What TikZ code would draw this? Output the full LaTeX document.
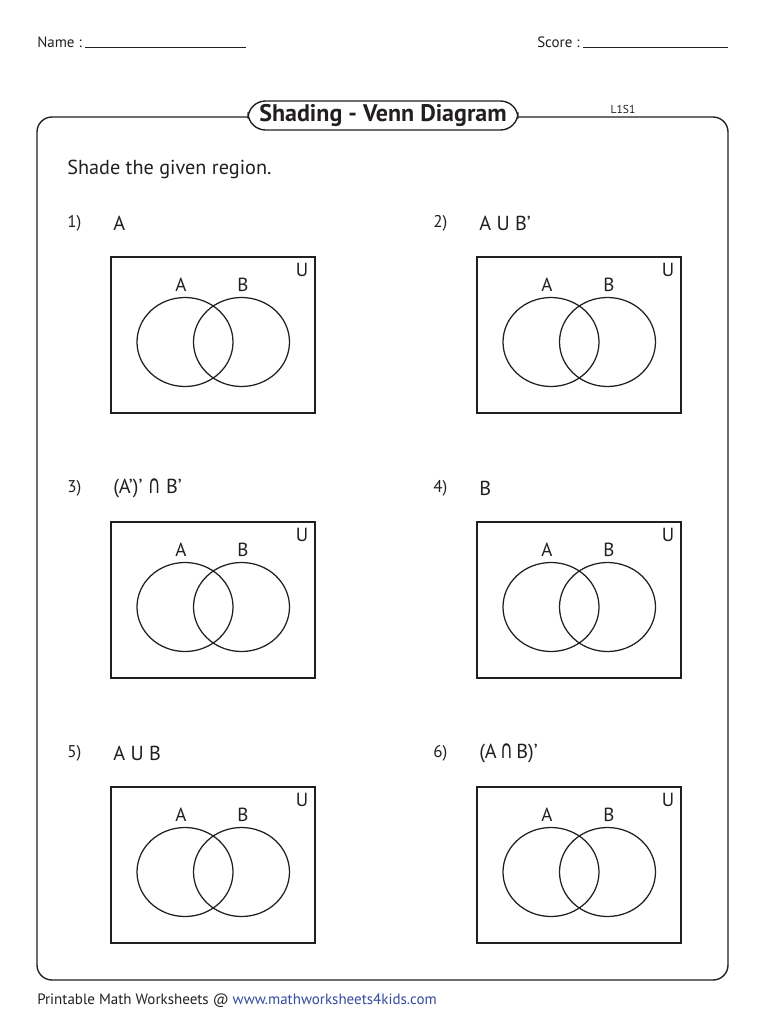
\documentclass[tikz,border=0pt]{standalone}
\usepackage{fontspec}
\setmainfont{PT Sans}
\newfontfamily\symfont{DejaVu Sans}
\usetikzlibrary{math, calc}
\definecolor{linkblue}{RGB}{52,74,160}
\definecolor{inkgray}{RGB}{35,31,32}
\newcommand{\capsym}{{\symfont\fontsize{14}{16}\selectfont\scalebox{1}[1.45]{∩}}}

\begin{document}
\begin{tikzpicture}[x=0.8pt,y=-0.8pt,
  every node/.style={inner sep=0pt, text=inkgray},
  txt/.style={anchor=west, font=\fontsize{16.2}{18}\selectfont},
  frameline/.style={draw=inkgray, line width=1.1pt},
  vennline/.style={draw=inkgray, line width=1pt}]
\tikzmath{
\W=204; \H=156;
\rx=48; \ry=44.5;
}
\useasboundingbox (0,0) rectangle (768,1024);

% header
\node[anchor=west, font=\fontsize{12}{14}\selectfont] (name) at (37,42) {Name :};
\coordinate (nameend) at (246,48);
\draw[inkgray, line width=0.8pt] (85,48) -- (nameend);
\node[anchor=west, font=\fontsize{12}{14}\selectfont] (score) at (537,42) {Score :};
\coordinate (scoreend) at (728,48);
\draw[inkgray, line width=0.8pt] (583,48) -- (scoreend);

% frame and title
\draw[frameline, rounded corners=12] (37,117) rectangle (728,980);
\draw[frameline, fill=white, rounded corners=14] (248,101) rectangle (518,130);
\node[font=\fontsize{19.2}{21}\bfseries\selectfont] (title) at (383,115) {Shading - Venn Diagram};
\node[font=\fontsize{9.2}{11}\selectfont] (code) at (623,109) {L1S1};

\node[txt] (intro) at (67,169) {Shade the given region.};

% the six diagrams
\foreach \k/\dx/\dy/\expr in {1/0/0/{A},
                               2/366/0/{A U B’},
                               3/0/265/{(A’)’ \capsym{} B’},
                               4/366/265/{B},
                               5/0/530/{A U B},
                               6/366/530/{(A\,\capsym\,B)’}}{
  \coordinate (box\k) at (111+\dx,257+\dy);
  \node[txt, font=\fontsize{13.6}{15}\selectfont] (num\k) at (67+\dx,223+\dy) {\k)};
  \node[txt] (expr\k) at (113+\dx,223+\dy) {\expr};
  \draw[vennline] (box\k) rectangle ++(\W,\H);
  \draw[vennline] ($(box\k)+(74,85)$) ellipse ({\rx} and {\ry});
  \draw[vennline] ($(box\k)+(130.5,85)$) ellipse ({\rx} and {\ry});
  \node[font=\fontsize{15.2}{17}\selectfont] (setA\k) at ($(box\k)+(70,28)$) {A};
  \node[font=\fontsize{15.2}{17}\selectfont] (setB\k) at ($(box\k)+(132,28)$) {B};
  \node[font=\fontsize{15.2}{17}\selectfont] (univ\k) at ($(box\k)+(191,13)$) {U};
}

% footer
\node[anchor=west, font=\fontsize{12}{14}\selectfont] (foot) at (37,1001)
  {Printable Math Worksheets @ \textcolor{linkblue}{www.mathworksheets4kids.com}};
\end{tikzpicture}
\end{document}
